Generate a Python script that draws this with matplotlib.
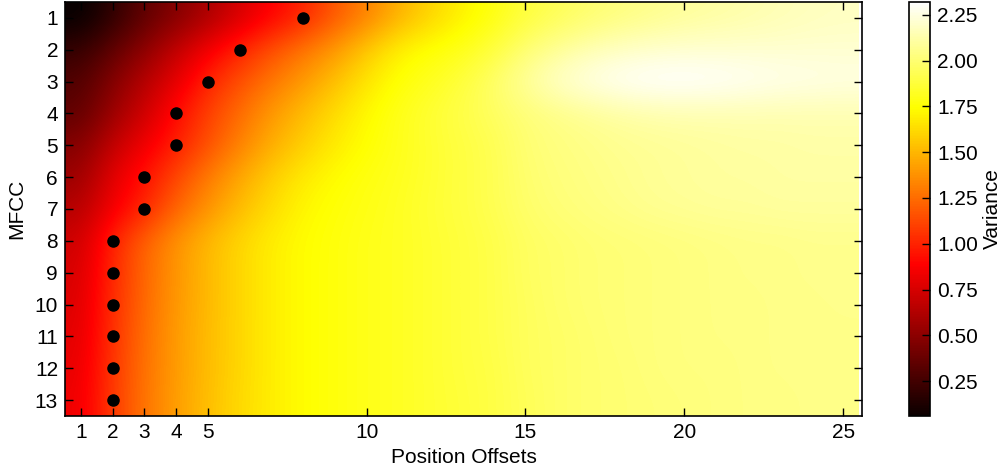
import numpy as np
import matplotlib
matplotlib.use("Agg")
import matplotlib.pyplot as plt

plt.rcParams['font.family'] = ['Liberation Sans', 'DejaVu Sans']

offsets = list(range(1, 26))
mfcc = list(range(1, 14))
x_ticks = [1, 2, 3, 4, 5, 10, 15, 20, 25]
cbar_ticks = [0.25, 0.50, 0.75, 1.00, 1.25, 1.50, 1.75, 2.00, 2.25]

# variance per MFCC (rows) and position offset (columns 1..25)
row1 = [0.04, 0.18, 0.35, 0.47, 0.60, 0.75, 0.88, 1.00, 1.18, 1.32, 1.48, 1.60, 1.70, 1.78, 1.88, 1.94, 1.99, 2.03, 2.06, 2.09, 2.11, 2.13, 2.15, 2.17, 2.18]
row2 = [0.20, 0.35, 0.50, 0.68, 0.85, 1.00, 1.15, 1.28, 1.40, 1.56, 1.70, 1.76, 1.80, 1.88, 2.00, 2.08, 2.14, 2.18, 2.20, 2.21, 2.21, 2.21, 2.21, 2.21, 2.21]
row3 = [0.30, 0.47, 0.64, 0.80, 1.00, 1.15, 1.28, 1.40, 1.53, 1.66, 1.76, 1.81, 1.88, 1.98, 2.10, 2.20, 2.27, 2.31, 2.33, 2.33, 2.32, 2.30, 2.28, 2.27, 2.26]
row4 = [0.35, 0.55, 0.72, 0.92, 1.10, 1.25, 1.40, 1.52, 1.63, 1.73, 1.80, 1.86, 1.91, 1.96, 2.01, 2.05, 2.08, 2.11, 2.13, 2.14, 2.14, 2.14, 2.14, 2.14, 2.14]
row5 = [0.47, 0.68, 0.84, 0.98, 1.15, 1.32, 1.47, 1.58, 1.68, 1.75, 1.80, 1.85, 1.89, 1.93, 2.00, 2.03, 2.05, 2.07, 2.08, 2.09, 2.10, 2.11, 2.11, 2.12, 2.12]
row6 = [0.55, 0.80, 0.94, 1.12, 1.30, 1.45, 1.58, 1.68, 1.74, 1.78, 1.81, 1.85, 1.89, 1.93, 1.99, 2.02, 2.04, 2.06, 2.08, 2.09, 2.10, 2.10, 2.11, 2.11, 2.11]
row7 = [0.64, 0.85, 1.00, 1.22, 1.38, 1.52, 1.63, 1.72, 1.76, 1.79, 1.82, 1.86, 1.89, 1.93, 1.98, 2.01, 2.03, 2.05, 2.07, 2.08, 2.09, 2.09, 2.10, 2.10, 2.10]
row8 = [0.72, 1.00, 1.22, 1.38, 1.51, 1.61, 1.69, 1.74, 1.77, 1.80, 1.82, 1.85, 1.88, 1.91, 1.96, 1.98, 2.00, 2.01, 2.02, 2.03, 2.04, 2.05, 2.05, 2.06, 2.06]
row9 = [0.75, 1.02, 1.23, 1.39, 1.51, 1.61, 1.69, 1.74, 1.77, 1.80, 1.82, 1.85, 1.88, 1.91, 1.96, 1.98, 2.00, 2.01, 2.02, 2.03, 2.04, 2.05, 2.05, 2.06, 2.06]
row10 = [0.77, 1.04, 1.24, 1.40, 1.51, 1.61, 1.69, 1.74, 1.77, 1.80, 1.82, 1.85, 1.88, 1.91, 1.95, 1.98, 2.00, 2.01, 2.02, 2.03, 2.04, 2.04, 2.05, 2.05, 2.06]
row11 = [0.79, 1.05, 1.26, 1.41, 1.52, 1.61, 1.69, 1.74, 1.77, 1.80, 1.82, 1.85, 1.88, 1.91, 1.95, 1.97, 1.99, 2.01, 2.02, 2.03, 2.04, 2.04, 2.05, 2.05, 2.05]
row12 = [0.81, 1.07, 1.27, 1.41, 1.52, 1.61, 1.69, 1.74, 1.77, 1.80, 1.82, 1.85, 1.88, 1.90, 1.95, 1.97, 1.99, 2.00, 2.02, 2.03, 2.03, 2.04, 2.05, 2.05, 2.05]
row13 = [0.83, 1.08, 1.28, 1.42, 1.53, 1.62, 1.69, 1.74, 1.77, 1.80, 1.82, 1.85, 1.87, 1.90, 1.94, 1.97, 1.99, 2.00, 2.01, 2.02, 2.03, 2.04, 2.04, 2.05, 2.05]

# marked offset for each MFCC
dot_offsets = [8, 6, 5, 4, 4, 3, 3, 2, 2, 2, 2, 2, 2]

variance = np.array([row1, row2, row3, row4, row5, row6, row7, row8, row9,
                     row10, row11, row12, row13])

fig = plt.figure(figsize=(10.04, 4.76), dpi=100)
ax = fig.add_axes([0.0647, 0.126, 0.794, 0.870])
cax = fig.add_axes([0.9054, 0.126, 0.0209, 0.870])

im = ax.imshow(variance, cmap='hot', interpolation='bicubic', aspect='auto',
               extent=[offsets[0] - 0.5, offsets[-1] + 0.5, mfcc[-1] + 0.5, mfcc[0] - 0.5],
               vmin=0.06, vmax=2.32)
ax.plot(dot_offsets, mfcc, 'o', color='black', markersize=8, linestyle='none')

ax.set_xlim(offsets[0] - 0.5, offsets[-1] + 0.6)
ax.set_ylim(mfcc[-1] + 0.5, mfcc[0] - 0.5)
ax.set_xticks(x_ticks)
ax.set_yticks(mfcc)
ax.tick_params(direction='in', top=True, right=True, labelsize=15, length=6, width=1, pad=5)
ax.set_xlabel('Position Offsets', fontsize=15, labelpad=4)
ax.set_ylabel('MFCC', fontsize=15, labelpad=6)
for s in ax.spines.values():
    s.set_linewidth(1.2)

cb = fig.colorbar(im, cax=cax, ticks=cbar_ticks)
cb.ax.yaxis.set_major_formatter(matplotlib.ticker.FormatStrFormatter('%.2f'))
cb.ax.tick_params(direction='in', labelsize=15, length=6, width=1, pad=5)
cb.set_label('Variance', fontsize=15)
cb.outline.set_linewidth(1.2)

fig.savefig('out.png', dpi=100)
